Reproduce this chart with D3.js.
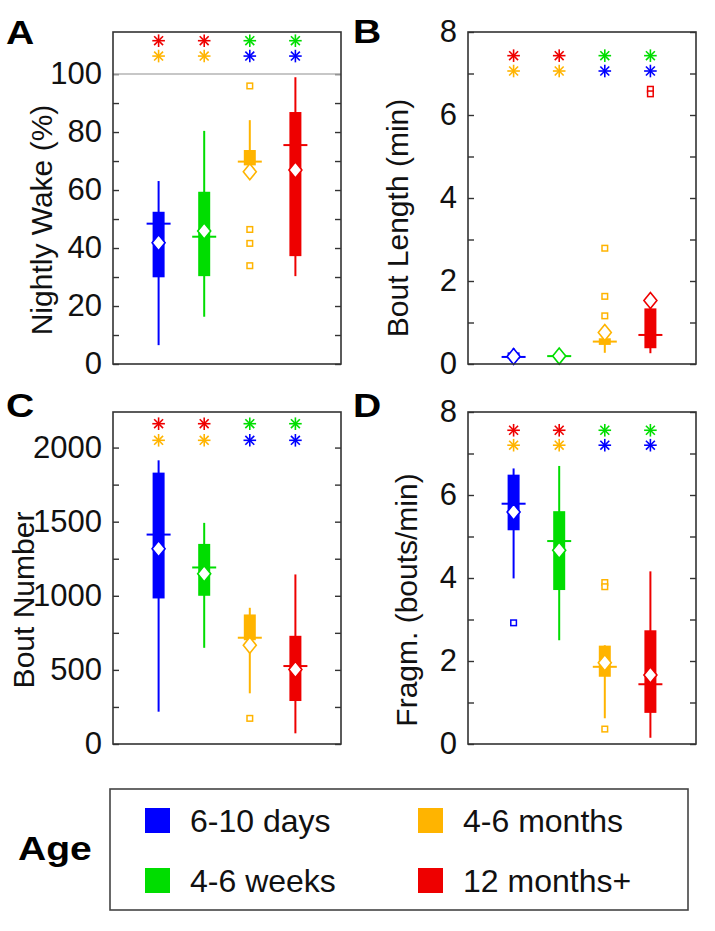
<!DOCTYPE html>
<html>
<head>
<meta charset="utf-8">
<script src="https://cdn.jsdelivr.net/npm/d3@7"></script>
<style>
  html, body { margin: 0; padding: 0; background: #ffffff; }
  svg { display: block; font-family: "Liberation Sans", Arial, Helvetica, sans-serif; }
</style>
</head>
<body>
<script>
// ---------------- DATA ----------------
const groups = ["6-10 days", "4-6 weeks", "4-6 months", "12 months+"];
const groupColors = ["#0000ff", "#00dd00", "#ffb400", "#ee0000"];

// Significance asterisk colours (top row, bottom row) per group
const starTopColors = ["#ee0000", "#ee0000", "#00dd00", "#00dd00"];
const starBottomColors = ["#ffb400", "#ffb400", "#0000ff", "#0000ff"];

// Panel A: Nightly Wake (%)
const wakeLow    = [6.5, 16.3, 66.0, 30.3];
const wakeQ1     = [29.9, 30.3, 68.5, 37.2];
const wakeMedian = [48.4, 43.9, 69.8, 75.5];
const wakeQ3     = [52.5, 59.4, 73.8, 86.9];
const wakeHigh   = [63.1, 80.4, 84.1, 98.9];
const wakeMean   = [41.8, 45.9, 66.3, 66.9];
const wakeOutliers = [[], [], [95.9, 46.4, 41.6, 33.9], []];
const wakeStars  = [111.5, 106.2];
const wakeTicks  = [0, 10, 20, 30, 40, 50, 60, 70, 80, 90, 100];
const wakeLabels = [0, 20, 40, 60, 80, 100];

// Panel B: Bout Length (min)
const lenLow    = [0.08, 0.12, 0.27, 0.26];
const lenQ1     = [0.12, 0.15, 0.46, 0.38];
const lenMedian = [0.17, 0.19, 0.54, 0.70];
const lenQ3     = [0.28, 0.24, 0.62, 1.34];
const lenHigh   = [0.38, 0.28, 0.66, 1.34];
const lenMean   = [0.18, 0.19, 0.76, 1.53];
const lenOutliers = [[], [], [2.79, 1.63, 1.16], [6.62, 6.51]];
const lenStars  = [7.43, 7.06];
const lenTicks  = [0, 1, 2, 3, 4, 5, 6, 7, 8];
const lenLabels = [0, 2, 4, 6, 8];

// Panel C: Bout Number
const numLow    = [218, 649, 342, 72];
const numQ1     = [982, 1000, 700, 290];
const numMedian = [1413, 1191, 717, 526];
const numQ3     = [1831, 1350, 874, 730];
const numHigh   = [1914, 1492, 919, 1144];
const numMean   = [1317, 1148, 667, 503];
const numOutliers = [[], [], [173], []];
const numStars  = [2161, 2049];
const numTicks  = [0, 250, 500, 750, 1000, 1250, 1500, 1750, 2000];
const numLabels = [0, 500, 1000, 1500, 2000];

// Panel D: Fragmentation (bouts/min)
const fragLow    = [3.99, 2.50, 0.62, 0.15];
const fragQ1     = [5.15, 3.71, 1.62, 0.75];
const fragMedian = [5.79, 4.89, 1.86, 1.44];
const fragQ3     = [6.49, 5.61, 2.37, 2.74];
const fragHigh   = [6.64, 6.70, 2.38, 4.16];
const fragMean   = [5.59, 4.67, 1.96, 1.66];
const fragOutliers = [[2.92], [], [3.89, 3.79, 0.36], []];
const fragStars  = [7.56, 7.20];
const fragTicks  = [0, 1, 2, 3, 4, 5, 6, 7, 8];
const fragLabels = [0, 2, 4, 6, 8];

// ---------------- LAYOUT ----------------
const W = 715, H = 931;
const PW = 228, PH = 332;

const panels = [
  { letter: "A", lx: 6,   ly: 44, px: 113, py: 32,  title: "Nightly Wake (%)", tx: 52,  tcy: 220, ymax: 114.5,
    low: wakeLow, q1: wakeQ1, med: wakeMedian, q3: wakeQ3, high: wakeHigh, mean: wakeMean, out: wakeOutliers,
    stars: wakeStars, ticks: wakeTicks, labels: wakeLabels, refLine: 100 },
  { letter: "B", lx: 353, ly: 43, px: 468, py: 32,  title: "Bout Length (min)", tx: 408, tcy: 218, ymax: 8,
    low: lenLow, q1: lenQ1, med: lenMedian, q3: lenQ3, high: lenHigh, mean: lenMean, out: lenOutliers,
    stars: lenStars, ticks: lenTicks, labels: lenLabels },
  { letter: "C", lx: 6,   ly: 417, px: 113, py: 412, title: "Bout Number", tx: 34, tcy: 600, ymax: 2240,
    low: numLow, q1: numQ1, med: numMedian, q3: numQ3, high: numHigh, mean: numMean, out: numOutliers,
    stars: numStars, ticks: numTicks, labels: numLabels },
  { letter: "D", lx: 353, ly: 417, px: 468, py: 412, title: "Fragm. (bouts/min)", tx: 417, tcy: 600, ymax: 8,
    low: fragLow, q1: fragQ1, med: fragMedian, q3: fragQ3, high: fragHigh, mean: fragMean, out: fragOutliers,
    stars: fragStars, ticks: fragTicks, labels: fragLabels }
];

const svg = d3.select("body").append("svg").attr("width", W).attr("height", H);

const frameColor = "#333333";
const textColor = "#111111";

panels.forEach(p => {
  // panel letter
  svg.append("text")
    .attr("transform", `translate(${p.lx},${p.ly}) scale(1.15,1)`)
    .attr("font-size", 34).attr("font-weight", "bold").attr("fill", "#000")
    .text(p.letter);

  // axis title
  svg.append("text")
    .attr("transform", `translate(${p.tx},${p.tcy}) rotate(-90)`)
    .attr("text-anchor", "middle").attr("font-size", 30).attr("fill", textColor)
    .text(p.title);

  const g = svg.append("g").attr("transform", `translate(${p.px},${p.py})`);
  const x = d3.scalePoint().domain(groups).range([0, PW]).padding(1);
  const y = d3.scaleLinear().domain([0, p.ymax]).range([PH, 0]);

  // left axis with inward ticks
  const la = g.append("g").call(
    d3.axisLeft(y).tickValues(p.ticks).tickSize(-6).tickPadding(11)
      .tickFormat(d => p.labels.includes(d) ? d3.format("d")(d) : "")
  );
  la.select(".domain").remove();
  la.selectAll("line").attr("stroke", frameColor).attr("stroke-width", 1.4);
  la.selectAll("text").attr("font-size", 31).attr("fill", textColor)
    .attr("font-family", "Liberation Sans, Arial, sans-serif");

  // right axis (ticks only)
  const ra = g.append("g").attr("transform", `translate(${PW},0)`).call(
    d3.axisRight(y).tickValues(p.ticks).tickSize(-6).tickFormat("")
  );
  ra.select(".domain").remove();
  ra.selectAll("line").attr("stroke", frameColor).attr("stroke-width", 1.4);

  // reference line
  if (p.refLine !== undefined) {
    g.append("line").attr("x1", 0).attr("x2", PW)
      .attr("y1", y(p.refLine)).attr("y2", y(p.refLine))
      .attr("stroke", "#b4b4b4").attr("stroke-width", 1.5);
  }

  groups.forEach((grp, i) => {
    const cx = x(grp);
    const col = groupColors[i];
    // whisker
    g.append("line").attr("x1", cx).attr("x2", cx)
      .attr("y1", y(p.low[i])).attr("y2", y(p.high[i]))
      .attr("stroke", col).attr("stroke-width", 2);
    // box
    g.append("rect").attr("x", cx - 6).attr("width", 12)
      .attr("y", y(p.q3[i])).attr("height", Math.max(1, y(p.q1[i]) - y(p.q3[i])))
      .attr("fill", col);
    // median
    g.append("line").attr("x1", cx - 12).attr("x2", cx + 12)
      .attr("y1", y(p.med[i])).attr("y2", y(p.med[i]))
      .attr("stroke", col).attr("stroke-width", 2);
    // outliers
    p.out[i].forEach(v => {
      g.append("rect").attr("x", cx - 2.8).attr("y", y(v) - 2.8)
        .attr("width", 5.6).attr("height", 5.6)
        .attr("fill", "#fff").attr("stroke", col).attr("stroke-width", 1.5);
    });
    // mean diamond
    const my = y(p.mean[i]);
    g.append("path")
      .attr("d", `M${cx},${my - 8}L${cx + 6.5},${my}L${cx},${my + 8}L${cx - 6.5},${my}Z`)
      .attr("fill", "#fff").attr("stroke", col).attr("stroke-width", 1.6);
    // asterisks
    [[p.stars[0], starTopColors[i]], [p.stars[1], starBottomColors[i]]].forEach(([v, sc]) => {
      const sy = y(v);
      const r = 6.3;
      const sg = g.append("g").attr("transform", `translate(${cx},${sy})`);
      [0, 45, 90, 135].forEach(a => {
        const rad = a * Math.PI / 180;
        sg.append("line")
          .attr("x1", -r * Math.cos(rad)).attr("y1", -r * Math.sin(rad))
          .attr("x2", r * Math.cos(rad)).attr("y2", r * Math.sin(rad))
          .attr("stroke", sc).attr("stroke-width", 1.6);
      });
    });
  });

  // frame
  g.append("rect").attr("x", 0).attr("y", 0).attr("width", PW).attr("height", PH)
    .attr("fill", "none").attr("stroke", frameColor).attr("stroke-width", 1.6);
});

// ---------------- LEGEND ----------------
svg.append("text")
  .attr("transform", "translate(18,860) scale(1.15,1)")
  .attr("font-size", 34).attr("font-weight", "bold").attr("fill", "#000")
  .text("Age");

svg.append("rect").attr("x", 110).attr("y", 789).attr("width", 578).attr("height", 121)
  .attr("fill", "#fff").attr("stroke", "#444").attr("stroke-width", 1.6);

const legendCols = [145, 418];
const legendRows = [808, 868];
groups.forEach((grp, i) => {
  const col = i < 2 ? 0 : 1;
  const row = i % 2;
  const lx = legendCols[col], ly = legendRows[row];
  svg.append("rect").attr("x", lx).attr("y", ly).attr("width", 25).attr("height", 25)
    .attr("fill", groupColors[i]);
  svg.append("text").attr("x", lx + 45).attr("y", ly + 24)
    .attr("font-size", 32).attr("fill", textColor).text(grp);
});
</script>
</body>
</html>
